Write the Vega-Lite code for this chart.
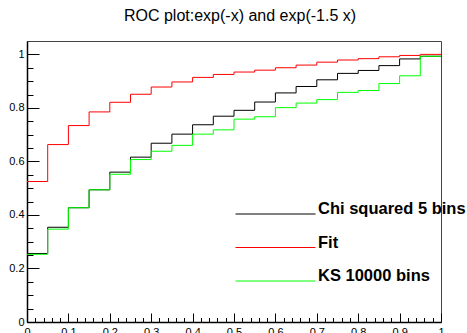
{
  "$schema": "https://vega.github.io/schema/vega-lite/v6.json",
  "width": 414,
  "height": 281,
  "autosize": {"type": "none"},
  "padding": {"left": 27, "top": 41, "right": 26, "bottom": 11},
  "background": "white",
  "view": {"stroke": "#444", "strokeWidth": 1},
  "title": {"text": "ROC plot:exp(-x) and exp(-1.5 x)", "font": "Liberation Sans", "fontSize": 16, "fontWeight": "normal", "color": "black", "anchor": "middle", "offset": 17, "dx": 6},
  "data": {"values": [
    {"x": 0.00, "Fit": 0.525, "Chi": 0.256, "KS": 0.253},
    {"x": 0.05, "Fit": 0.663, "Chi": 0.354, "KS": 0.347},
    {"x": 0.10, "Fit": 0.734, "Chi": 0.427, "KS": 0.427},
    {"x": 0.15, "Fit": 0.785, "Chi": 0.494, "KS": 0.494},
    {"x": 0.20, "Fit": 0.821, "Chi": 0.560, "KS": 0.552},
    {"x": 0.25, "Fit": 0.851, "Chi": 0.616, "KS": 0.607},
    {"x": 0.30, "Fit": 0.878, "Chi": 0.668, "KS": 0.638},
    {"x": 0.35, "Fit": 0.897, "Chi": 0.702, "KS": 0.660},
    {"x": 0.40, "Fit": 0.914, "Chi": 0.737, "KS": 0.702},
    {"x": 0.45, "Fit": 0.925, "Chi": 0.769, "KS": 0.718},
    {"x": 0.50, "Fit": 0.934, "Chi": 0.791, "KS": 0.758},
    {"x": 0.55, "Fit": 0.941, "Chi": 0.822, "KS": 0.767},
    {"x": 0.60, "Fit": 0.950, "Chi": 0.856, "KS": 0.801},
    {"x": 0.65, "Fit": 0.960, "Chi": 0.880, "KS": 0.818},
    {"x": 0.70, "Fit": 0.971, "Chi": 0.905, "KS": 0.831},
    {"x": 0.75, "Fit": 0.979, "Chi": 0.929, "KS": 0.858},
    {"x": 0.80, "Fit": 0.984, "Chi": 0.940, "KS": 0.865},
    {"x": 0.85, "Fit": 0.991, "Chi": 0.958, "KS": 0.891},
    {"x": 0.90, "Fit": 0.996, "Chi": 0.983, "KS": 0.920},
    {"x": 0.95, "Fit": 1.000, "Chi": 0.993, "KS": 0.993},
    {"x": 1.00, "Fit": 1.000, "Chi": 0.993, "KS": 0.993}
  ]},
  "transform": [
    {"fold": ["Chi", "Fit", "KS"], "as": ["key", "value"]},
    {"calculate": "datum.key === 'Chi' ? 'Chi squared 5 bins' : (datum.key === 'Fit' ? 'Fit' : 'KS 10000 bins')", "as": "series"}
  ],
  "mark": {"type": "line", "interpolate": "step-after", "strokeWidth": 1, "clip": true},
  "encoding": {
    "x": {
      "field": "x", "type": "quantitative",
      "scale": {"domain": [0, 1], "nice": false, "zero": false},
      "axis": {
        "title": null, "grid": false,
        "values": [0,0.02,0.04,0.06,0.08,0.1,0.12,0.14,0.16,0.18,0.2,0.22,0.24,0.26,0.28,0.3,0.32,0.34,0.36,0.38,0.4,0.42,0.44,0.46,0.48,0.5,0.52,0.54,0.56,0.58,0.6,0.62,0.64,0.66,0.68,0.7,0.72,0.74,0.76,0.78,0.8,0.82,0.84,0.86,0.88,0.9,0.92,0.94,0.96,0.98,1],
        "labelExpr": "round(datum.value*50) % 5 == 0 ? format(datum.value, '~g') : ''",
        "tickSize": {"condition": {"test": "round(datum.value*50) % 5 == 0", "value": -9}, "value": -4.5},
        "tickColor": "black", "tickWidth": 1,
        "domainColor": "black", "domainWidth": 1.5,
        "labelFont": "Liberation Sans", "labelFontSize": 11, "labelColor": "black",
        "labelPadding": 13, "labelFlush": false, "labelOverlap": false
      }
    },
    "y": {
      "field": "value", "type": "quantitative",
      "scale": {"domain": [0, 1.05], "nice": false},
      "axis": {
        "title": null, "grid": false,
        "values": [0,0.05,0.1,0.15,0.2,0.25,0.3,0.35,0.4,0.45,0.5,0.55,0.6,0.65,0.7,0.75,0.8,0.85,0.9,0.95,1],
        "labelExpr": "round(datum.value*20) % 4 == 0 ? format(datum.value, '~g') : ''",
        "tickSize": {"condition": {"test": "round(datum.value*20) % 4 == 0", "value": -12}, "value": -6},
        "tickColor": "black", "tickWidth": 1,
        "domainColor": "black", "domainWidth": 1.5,
        "labelFont": "Liberation Sans", "labelFontSize": 11, "labelColor": "black",
        "labelPadding": 15, "labelFlush": false, "labelOverlap": false
      }
    },
    "color": {
      "field": "series", "type": "nominal",
      "scale": {"domain": ["Chi squared 5 bins", "Fit", "KS 10000 bins"], "range": ["#000000", "#ff0000", "#00ff00"]},
      "legend": {
        "title": null, "orient": "none", "legendX": 208, "legendY": 166,
        "symbolType": "stroke", "symbolSize": 6400, "symbolStrokeWidth": 1, "clipHeight": 14,
        "labelFont": "Liberation Sans", "labelFontWeight": "bold", "labelFontSize": 16.5, "labelColor": "black",
        "labelOffset": 2, "labelBaseline": "alphabetic", "rowPadding": 13.5, "padding": 0, "labelLimit": 300
      }
    },
    "order": {"field": "x", "type": "quantitative"}
  }
}
